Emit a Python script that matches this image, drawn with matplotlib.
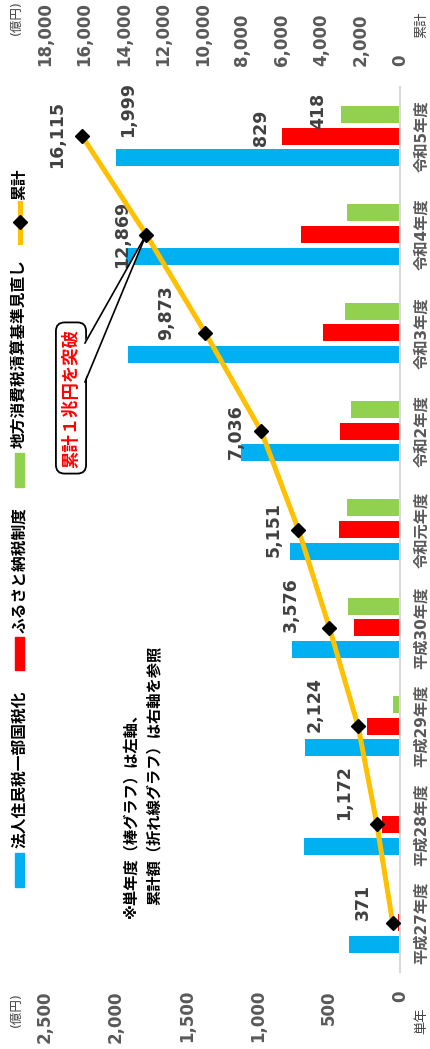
import matplotlib
matplotlib.use("Agg")
import matplotlib.pyplot as plt
import numpy as np
from matplotlib.patches import Rectangle, Polygon
from matplotlib.lines import Line2D
from matplotlib.transforms import IdentityTransform

plt.rcParams['font.family'] = ['DejaVu Sans', 'Noto Sans CJK JP']

# ---- data (億円) ----
years = ['平成27年度', '平成28年度', '平成29年度', '平成30年度', '令和元年度',
         '令和2年度', '令和3年度', '令和4年度', '令和5年度']
corp_tax = [360, 675, 670, 762, 772, 1120, 1912, 1930, 1999]      # 法人住民税一部国税化
furusato = [11, 126, 232, 321, 430, 423, 540, 695, 829]           # ふるさと納税制度
consumption = [0, 0, 50, 369, 373, 342, 385, 371, 418]            # 地方消費税清算基準見直し
cumulative = [371, 1172, 2124, 3576, 5151, 7036, 9873, 12869, 16115]

series_names = ['法人住民税一部国税化', 'ふるさと納税制度', '地方消費税清算基準見直し', '累計']
left_ticks = [0, 500, 1000, 1500, 2000, 2500]
right_ticks = [0, 2000, 4000, 6000, 8000, 10000, 12000, 14000, 16000, 18000]

C_BLUE, C_RED, C_GREEN, C_LINE = '#00B0F0', '#FF0000', '#92D050', '#FFC000'
C_TEXT = '#404040'
C_TICK = '#595959'

W, H = 430, 1049
fig = plt.figure(figsize=(W / 100, H / 100), dpi=100)


def fx(x):
    return x / W


def fy(y):
    return 1 - y / H


ax = fig.add_axes([fx(45), fy(972), 355 / W, 885 / H])
pos = np.arange(len(years))
off, bh = 0.221, 0.173

ax.barh(pos - off, corp_tax, height=bh, color=C_BLUE)
ax.barh(pos, furusato, height=bh, color=C_RED)
ax.barh(pos + off, consumption, height=bh, color=C_GREEN)
ax.set_xlim(2500, 0)
ax.set_ylim(-0.5, len(years) - 0.5)

for s in ['top', 'bottom', 'left']:
    ax.spines[s].set_visible(False)
ax.spines['right'].set_color('#D9D9D9')
ax.spines['right'].set_linewidth(1.5)

ax.set_xticks(left_ticks)
ax.set_xticklabels([f'{v:,}' for v in left_ticks], rotation=90,
                   fontweight='bold', color=C_TICK, fontsize=12)
ax.tick_params(axis='x', length=0, pad=13)

ax.yaxis.tick_right()
ax.set_yticks(pos)
ax.set_yticklabels(years, rotation=90, va='center', fontweight='bold',
                   color=C_TICK, fontsize=11)
ax.tick_params(axis='y', length=0, pad=10)

# last-year bar values
bar_label_offsets = [(12, 48), (-21, 8), (-22, 4)]
last = len(years) - 1
for vals, dy, (ox, oy) in zip([corp_tax, furusato, consumption], [-off, 0, off], bar_label_offsets):
    ax.annotate(f'{vals[last]:,}', xy=(vals[last], last + dy), xytext=(ox, oy),
                textcoords='offset pixels', ha='center', va='center', rotation=90,
                fontsize=12.5, fontweight='bold', color=C_TEXT)

# cumulative line on the secondary scale
ax2 = ax.twiny()
ax2.set_xlim(18000, 0)
ax2.plot(cumulative, pos, color=C_LINE, lw=3.6, marker='D', ms=7,
         mfc='black', mec='black', zorder=5)
for s in ax2.spines.values():
    s.set_visible(False)
ax2.set_xticks(right_ticks)
ax2.set_xticklabels([f'{v:,}' for v in right_ticks], rotation=90,
                    fontweight='bold', color=C_TICK, fontsize=12)
ax2.tick_params(axis='x', length=0, pad=15)

cum_offsets = [(-30, 21), (-33, 32), (-43, 22), (-39, 23), (-25, 0),
               (-25, 0), (-39, 20), (-24, 0), (-25, 2)]
for i, (v, (ox, oy)) in enumerate(zip(cumulative, cum_offsets)):
    ax2.annotate(f'{v:,}', xy=(v, pos[i]), xytext=(ox, oy), textcoords='offset pixels',
                 ha='center', va='center', rotation=90, fontsize=12.5,
                 fontweight='bold', color=C_TEXT)

# callout pointing at the year the total passed 1 trillion yen
fig.text(fx(71), fy(398), '累計１兆円を突破', rotation=90, ha='center', va='center',
         fontsize=12.5, fontweight='bold', color='red',
         bbox=dict(boxstyle='round,pad=0.35,rounding_size=0.5', fc='white', ec='black', lw=1.3))
tip = ax2.transData.transform((cumulative[7], pos[7]))
b1 = (84, H - 343)
b2 = (84, H - 382)
fig.add_artist(Polygon([b1, tip, b2], closed=True, fc='white', ec='none',
                       transform=IdentityTransform(), zorder=6))
for b in (b1, b2):
    fig.add_artist(Line2D([b[0] + 1, tip[0]], [b[1], tip[1]], color='black', lw=1.2,
                          transform=IdentityTransform(), zorder=7))

# legend, drawn in the rotated layout
legend_patches = [(C_BLUE, 853, 887, 848), (C_RED, 637, 670, 633), (C_GREEN, 453, 487, 448)]
for (col, y0, y1, ty), name in zip(legend_patches, series_names[:3]):
    fig.add_artist(Rectangle((fx(15), fy(y1)), 9 / W, (y1 - y0) / H, color=col,
                             transform=fig.transFigure))
    fig.text(fx(20), fy(ty), name, rotation=90, ha='center', va='bottom',
             fontsize=11.3, fontweight='bold', color='black')
fig.add_artist(Line2D([fx(20), fx(20)], [fy(242), fy(203)], color=C_LINE, lw=3.6,
                      transform=fig.transFigure))
fig.add_artist(Line2D([fx(20)], [fy(222)], marker='D', ms=7, mfc='black', mec='black',
                      transform=fig.transFigure))
fig.text(fx(20), fy(200), series_names[3], rotation=90, ha='center', va='bottom',
         fontsize=11.3, fontweight='bold', color='black')

# notes about the axes
fig.text(fx(131), fy(918), '※単年度（棒グラフ）は左軸、', rotation=90, ha='center', va='bottom',
         fontsize=11, fontweight='bold', color='black')
fig.text(fx(155), fy(905), '累計額（折れ線グラフ）は右軸を参照', rotation=90, ha='center',
         va='bottom', fontsize=11, fontweight='bold', color='black')

# unit labels
fig.text(fx(16), fy(18), '(億円)', rotation=90, ha='center', va='center', fontsize=9, color=C_TEXT)
fig.text(fx(16), fy(1010), '(億円)', rotation=90, ha='center', va='center', fontsize=9, color=C_TEXT)
fig.text(fx(422), fy(25), '累計', rotation=90, ha='center', va='center', fontsize=9.5, color=C_TEXT)
fig.text(fx(422), fy(1021), '単年', rotation=90, ha='center', va='center', fontsize=9.5, color=C_TEXT)

fig.savefig('out.png', dpi=100)
